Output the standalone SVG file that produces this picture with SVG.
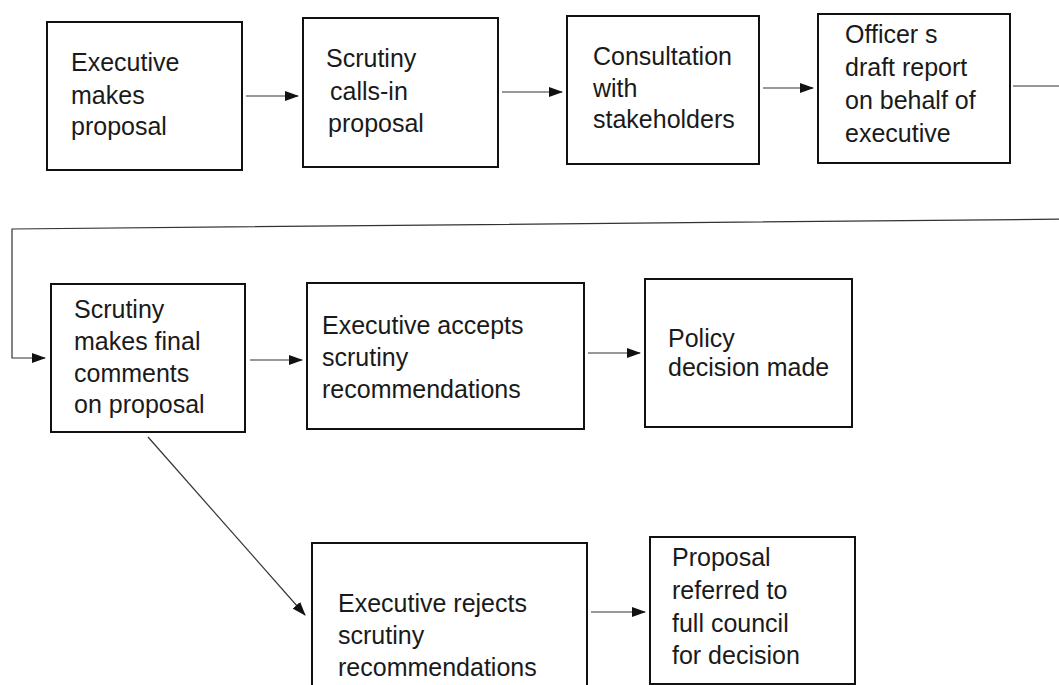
<svg xmlns="http://www.w3.org/2000/svg" width="1059" height="685" viewBox="0 0 1059 685">
<style>
.box{fill:#fff;stroke:#111;stroke-width:2}
.t{font-family:"Liberation Sans",Arial,sans-serif;font-size:25px;fill:#1a1a1a}
.c{fill:none;stroke:#333;stroke-width:1.2}
</style>
<defs>
<marker id="ah" markerWidth="14" markerHeight="10" refX="13" refY="5" orient="auto" markerUnits="userSpaceOnUse">
<path d="M0,0 L14,5 L0,10 Z" fill="#111"/>
</marker>
</defs>
<rect width="1059" height="685" fill="#fff"/>
<g id="n1"><rect class="box" x="47" y="22" width="195" height="148"/>
<text class="t" x="71" y="71">Executive</text><text class="t" x="71" y="104">makes</text><text class="t" x="71" y="135">proposal</text></g>
<g id="n2"><rect class="box" x="303" y="18" width="195" height="149"/>
<text class="t" x="326" y="67">Scrutiny</text><text class="t" x="330" y="100">calls-in</text><text class="t" x="328" y="132">proposal</text></g>
<g id="n3"><rect class="box" x="567" y="16" width="192" height="148"/>
<text class="t" x="593" y="65">Consultation</text><text class="t" x="593" y="97">with</text><text class="t" x="593" y="128">stakeholders</text></g>
<g id="n4"><rect class="box" x="818" y="14" width="192" height="149"/>
<text class="t" x="845" y="43">Officer s</text><text class="t" x="845" y="76">draft report</text><text class="t" x="845" y="109">on behalf of</text><text class="t" x="845" y="142">executive</text></g>
<g id="n5"><rect class="box" x="51" y="284" width="194" height="148"/>
<text class="t" x="74" y="318">Scrutiny</text><text class="t" x="74" y="350">makes final</text><text class="t" x="74" y="382">comments</text><text class="t" x="74" y="413">on proposal</text></g>
<g id="n6"><rect class="box" x="307" y="283" width="277" height="146"/>
<text class="t" x="322" y="334">Executive accepts</text><text class="t" x="322" y="366">scrutiny</text><text class="t" x="322" y="398">recommendations</text></g>
<g id="n7"><rect class="box" x="645" y="279" width="207" height="148"/>
<text class="t" x="668" y="347">Policy</text><text class="t" x="668" y="376">decision made</text></g>
<g id="n8"><rect class="box" x="312" y="543" width="275" height="150"/>
<text class="t" x="338" y="612">Executive rejects</text><text class="t" x="338" y="644">scrutiny</text><text class="t" x="338" y="676">recommendations</text></g>
<g id="n9"><rect class="box" x="650" y="537" width="205" height="147"/>
<text class="t" x="672" y="566">Proposal</text><text class="t" x="672" y="599">referred to</text><text class="t" x="672" y="632">full council</text><text class="t" x="672" y="664">for decision</text></g>
<g id="connectors">
<path class="c" d="M246,96 H298" marker-end="url(#ah)"/>
<path class="c" d="M502,92 H562" marker-end="url(#ah)"/>
<path class="c" d="M763,88 H813" marker-end="url(#ah)"/>
<path class="c" d="M1013,86 H1075 V219 L12,229 V358 H45" marker-end="url(#ah)"/>
<path class="c" d="M250,360 H302" marker-end="url(#ah)"/>
<path class="c" d="M588,353 H640" marker-end="url(#ah)"/>
<path class="c" d="M148,437 L305,615" marker-end="url(#ah)"/>
<path class="c" d="M591,612 H645" marker-end="url(#ah)"/>
</g>
</svg>
